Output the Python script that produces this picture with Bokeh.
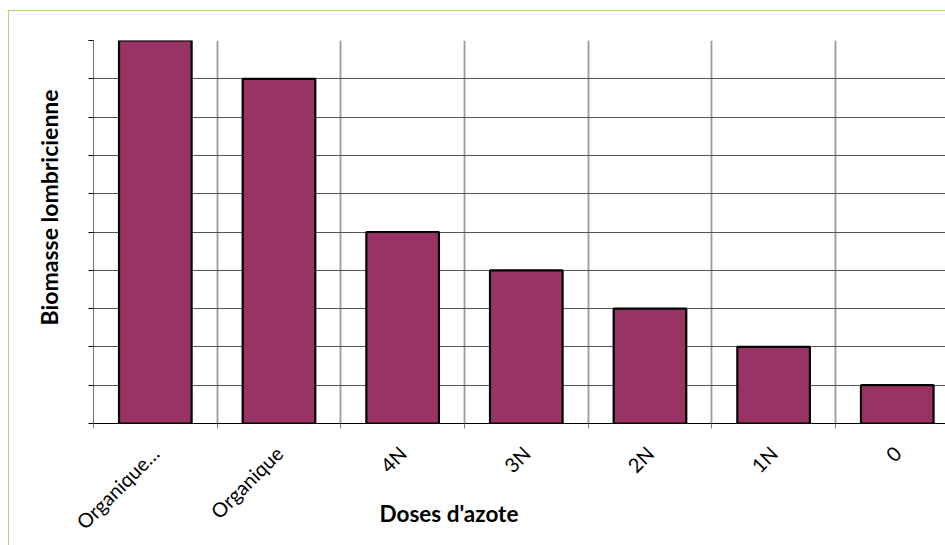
import math
from bokeh.plotting import figure
from bokeh.layouts import column
from bokeh.models import Range1d, FixedTicker, Title
from bokeh.embed import file_html
from bokeh.resources import INLINE

categories = ["Organique…", "Organique", "4N", "3N", "2N", "1N", "0"]
values = [10, 9, 5, 4, 3, 2, 1]
y_ticks = list(range(0, 11))
x_title = "Doses d'azote"
y_title = "Biomasse lombricienne"

FONT = "Lato"
n = len(categories)
centers = [i + 0.5 for i in range(n)]

p = figure(width=936, height=534, output_backend="svg", toolbar_location=None,
           x_range=Range1d(0, 6.89), y_range=Range1d(0, 10),
           min_border_left=84, min_border_top=29, min_border_bottom=122,
           min_border_right=0)
p.background_fill_color = "white"
p.border_fill_color = "white"
p.outline_line_color = None

p.vbar(x=centers, top=values, bottom=0, width=0.587, fill_color="#993366",
       line_color="black", line_width=2.2)

# x axis
p.xaxis.ticker = FixedTicker(ticks=centers, minor_ticks=list(range(0, n + 1)))
p.xaxis.major_label_overrides = {c: lab for c, lab in zip(centers, categories)}
p.xaxis.major_label_orientation = math.pi / 4
p.xaxis.major_label_text_font = FONT
p.xaxis.major_label_text_font_size = "20px"
p.xaxis.major_label_text_color = "black"
p.xaxis.major_tick_out = 0
p.xaxis.major_tick_in = 0
p.xaxis.minor_tick_out = 5
p.xaxis.minor_tick_in = 0
p.xaxis.minor_tick_line_color = "#808080"
p.xaxis.axis_line_color = "black"
p.xaxis.major_label_standoff = 21

# y axis (no tick labels)
p.yaxis.ticker = FixedTicker(ticks=y_ticks)
p.yaxis.major_label_overrides = {t: "" for t in y_ticks}
p.yaxis.major_label_standoff = 0
p.yaxis.major_tick_out = 5
p.yaxis.major_tick_in = 0
p.yaxis.minor_tick_line_color = None
p.yaxis.major_tick_line_color = "black"
p.yaxis.axis_line_color = "#707070"

# grids
p.xgrid[0].ticker = FixedTicker(ticks=list(range(1, n + 1)))
p.xgrid.grid_line_color = "#9a9a9a"
p.xgrid.grid_line_width = 1.8
p.ygrid.grid_line_color = "#555555"
p.ygrid.grid_line_width = 1.2

# axis titles
p.add_layout(Title(text=x_title, align="left", offset=286, standoff=-92,
                   vertical_align="top",
                   text_font=FONT, text_font_style="bold", text_font_size="22.5px",
                   text_color="black"), "below")
p.add_layout(Title(text=y_title, align="left", offset=98, standoff=49,
                   vertical_align="middle",
                   text_font=FONT, text_font_style="bold", text_font_size="23px",
                   text_color="black"), "left")

layout = column(p, margin=(10, 0, 0, 8),
                styles={"border-left": "1px solid #a6d96a",
                        "border-top": "1px solid #a6d96a"})

open("out.html", "w").write(file_html(layout, INLINE))
